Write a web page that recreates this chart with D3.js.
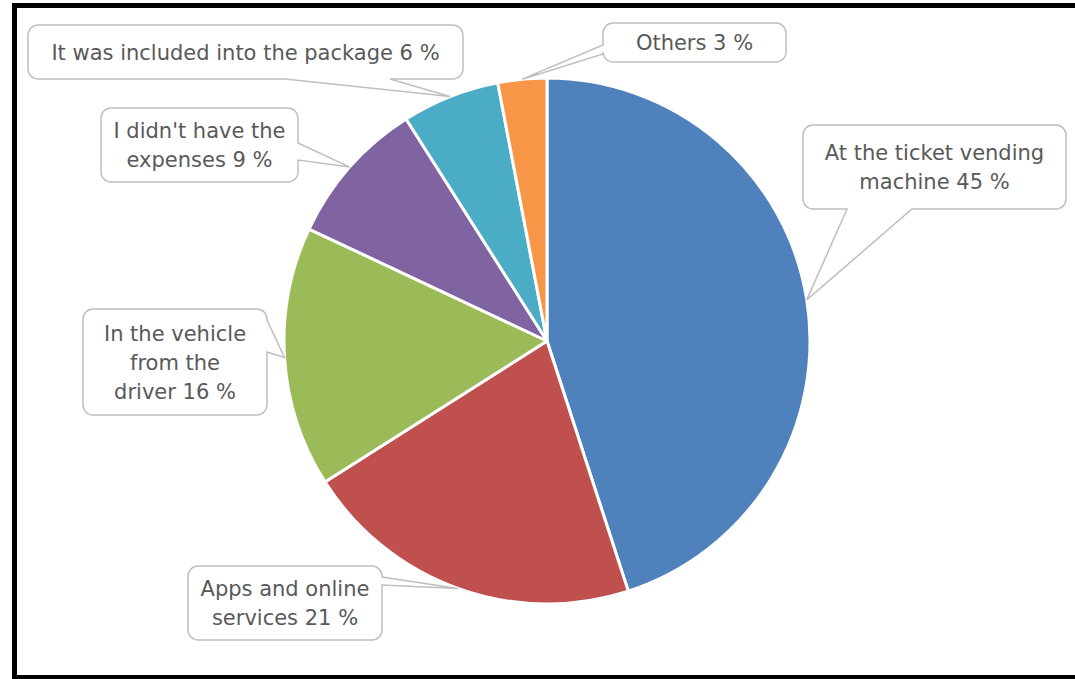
<!DOCTYPE html>
<html>
<head>
<meta charset="utf-8">
<script src="https://cdn.jsdelivr.net/npm/d3@7"></script>
<style>
  html, body { margin: 0; padding: 0; background: #fff; }
  svg { display: block; }
  .label { font-family: "DejaVu Sans", Verdana, sans-serif; font-size: 21px; fill: #595959; }
</style>
</head>
<body>
<div id="container"></div>
<script>
const categories = [
  "At the ticket vending machine",
  "Apps and online services",
  "In the vehicle from the driver",
  "I didn't have the expenses",
  "It was included into the package",
  "Others"
];
const values = [45, 21, 16, 9, 6, 3];
const colors = ["#4F81BD", "#C0504D", "#9BBB59", "#8064A2", "#4BACC6", "#F79646"];

// callout boxes (layout only), one per category
const callouts = [
  { x: 803, y: 125, w: 263, h: 84, side: "bottom", a: 847, b: 912, breaks: [4] },
  { x: 188, y: 566, w: 194, h: 74, side: "right", a: 577, b: 585, breaks: [3] },
  { x: 83, y: 309, w: 184, h: 106, side: "right", a: 320, b: 352, breaks: [3, 5] },
  { x: 101, y: 108, w: 197, h: 74, side: "right", a: 143, b: 160, breaks: [4] },
  { x: 28, y: 25, w: 435, h: 54, side: "bottom", a: 285, b: 390, breaks: [] },
  { x: 603, y: 23, w: 183, h: 39, side: "left", a: 45, b: 54, breaks: [] }
];

const totalWidth = 1075;
const totalHeight = 679;
const cx = 547, cy = 341, radius = 263;
const lineHeight = 29;

const svg = d3.select("#container")
  .append("svg")
  .attr("width", totalWidth)
  .attr("height", totalHeight);

// outer frame
svg.append("rect")
  .attr("x", 14.5)
  .attr("y", 5.5)
  .attr("width", 1080)
  .attr("height", 672)
  .attr("fill", "none")
  .attr("stroke", "#000")
  .attr("stroke-width", 5);

const pie = d3.pie().sort(null).value(d => d);
const arcs = pie(values);

const arc = d3.arc().innerRadius(0).outerRadius(radius);
const edgeArc = d3.arc().innerRadius(radius).outerRadius(radius);

const g = svg.append("g").attr("transform", `translate(${cx},${cy})`);

g.selectAll("path")
  .data(arcs)
  .enter()
  .append("path")
  .attr("d", arc)
  .attr("fill", (d, i) => colors[i])
  .attr("stroke", "#fff")
  .attr("stroke-width", 3)
  .attr("stroke-linejoin", "round");

// rounded box with a pointer wedge on one side
function calloutPath(c, tip) {
  const r = 10, x = c.x, y = c.y, x2 = c.x + c.w, y2 = c.y + c.h;
  const t = `${tip[0]},${tip[1]}`;
  let p = `M${x + r},${y}`;
  if (c.side === "top") p += `L${c.a},${y}L${t}L${c.b},${y}`;
  p += `L${x2 - r},${y}A${r},${r} 0 0 1 ${x2},${y + r}`;
  if (c.side === "right") p += `L${x2},${c.a}L${t}L${x2},${c.b}`;
  p += `L${x2},${y2 - r}A${r},${r} 0 0 1 ${x2 - r},${y2}`;
  if (c.side === "bottom") p += `L${c.b},${y2}L${t}L${c.a},${y2}`;
  p += `L${x + r},${y2}A${r},${r} 0 0 1 ${x},${y2 - r}`;
  if (c.side === "left") p += `L${x},${c.b}L${t}L${x},${c.a}`;
  p += `L${x},${y + r}A${r},${r} 0 0 1 ${x + r},${y}Z`;
  return p;
}

function labelLines(i) {
  const words = `${categories[i]} ${values[i]} %`.split(" ");
  const cuts = [0, ...callouts[i].breaks, words.length];
  const lines = [];
  for (let k = 0; k < cuts.length - 1; k++) lines.push(words.slice(cuts[k], cuts[k + 1]).join(" "));
  return lines;
}

const labels = svg.append("g");

arcs.forEach((d, i) => {
  const c = callouts[i];
  const e = edgeArc.centroid(d);
  const tip = [cx + e[0], cy + e[1]];

  labels.append("path")
    .attr("d", calloutPath(c, tip))
    .attr("fill", "#fff")
    .attr("stroke", "#BFBFBF")
    .attr("stroke-width", 1.5);

  const lines = labelLines(i);
  const midY = c.y + c.h / 2;
  const text = labels.append("text")
    .attr("class", "label")
    .attr("text-anchor", "middle");
  lines.forEach((line, k) => {
    text.append("tspan")
      .attr("x", c.x + c.w / 2)
      .attr("y", midY + (k - (lines.length - 1) / 2) * lineHeight)
      .attr("dy", "0.36em")
      .text(line);
  });
});
</script>
</body>
</html>
